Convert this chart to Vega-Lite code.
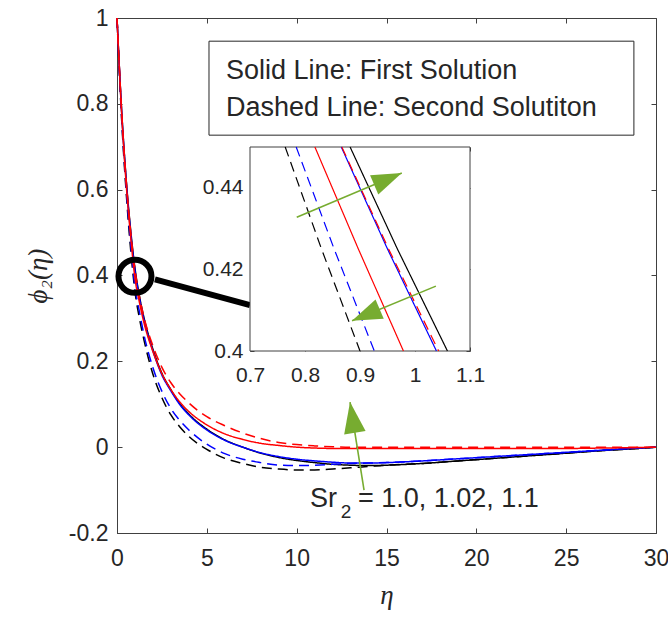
{
  "$schema": "https://vega.github.io/schema/vega-lite/v6.json",
  "width": 539,
  "height": 515,
  "autosize": "none",
  "padding": {"left": 117, "top": 18, "right": 12, "bottom": 86},
  "background": "white",
  "config": {
    "view": {"stroke": "#404040", "strokeWidth": 1},
    "axis": {
      "labelFont": "Liberation Sans",
      "labelFontSize": 23,
      "labelColor": "#262626",
      "domainColor": "#404040",
      "tickColor": "#404040",
      "tickSize": -5,
      "grid": false,
      "labelFlush": false,
      "labelOverlap": false,
      "titleFont": "Liberation Serif, DejaVu Serif",
      "titleFontStyle": "italic",
      "titleFontWeight": "normal",
      "titleFontSize": 27,
      "titleColor": "#262626",
      "zindex": 1
    }
  },
  "datasets": {
    "main": [
      {"eta":0,"phi":1,"Sr2":"1.0","sol":"First"},{"eta":0.25,"phi":0.79,"Sr2":"1.0","sol":"First"},{"eta":0.5,"phi":0.63,"Sr2":"1.0","sol":"First"},{"eta":0.75,"phi":0.51,"Sr2":"1.0","sol":"First"},{"eta":1,"phi":0.417,"Sr2":"1.0","sol":"First"},{"eta":1.25,"phi":0.352,"Sr2":"1.0","sol":"First"},{"eta":1.5,"phi":0.302,"Sr2":"1.0","sol":"First"},{"eta":2,"phi":0.228,"Sr2":"1.0","sol":"First"},{"eta":2.5,"phi":0.172,"Sr2":"1.0","sol":"First"},{"eta":3,"phi":0.134,"Sr2":"1.0","sol":"First"},{"eta":3.5,"phi":0.101,"Sr2":"1.0","sol":"First"},{"eta":4,"phi":0.077,"Sr2":"1.0","sol":"First"},{"eta":5,"phi":0.042,"Sr2":"1.0","sol":"First"},{"eta":6,"phi":0.017,"Sr2":"1.0","sol":"First"},{"eta":7,"phi":0,"Sr2":"1.0","sol":"First"},{"eta":8,"phi":-0.014,"Sr2":"1.0","sol":"First"},{"eta":9,"phi":-0.024,"Sr2":"1.0","sol":"First"},{"eta":10,"phi":-0.031,"Sr2":"1.0","sol":"First"},{"eta":11,"phi":-0.036,"Sr2":"1.0","sol":"First"},{"eta":12,"phi":-0.04,"Sr2":"1.0","sol":"First"},{"eta":13,"phi":-0.042,"Sr2":"1.0","sol":"First"},{"eta":14,"phi":-0.043,"Sr2":"1.0","sol":"First"},{"eta":15,"phi":-0.042,"Sr2":"1.0","sol":"First"},{"eta":17,"phi":-0.038,"Sr2":"1.0","sol":"First"},{"eta":19,"phi":-0.032,"Sr2":"1.0","sol":"First"},{"eta":21,"phi":-0.026,"Sr2":"1.0","sol":"First"},{"eta":23,"phi":-0.02,"Sr2":"1.0","sol":"First"},{"eta":25,"phi":-0.014,"Sr2":"1.0","sol":"First"},{"eta":27,"phi":-0.008,"Sr2":"1.0","sol":"First"},{"eta":29,"phi":-0.003,"Sr2":"1.0","sol":"First"},{"eta":30,"phi":0,"Sr2":"1.0","sol":"First"},
      {"eta":0,"phi":1,"Sr2":"1.0","sol":"Second"},{"eta":0.25,"phi":0.77,"Sr2":"1.0","sol":"Second"},{"eta":0.5,"phi":0.6,"Sr2":"1.0","sol":"Second"},{"eta":0.75,"phi":0.465,"Sr2":"1.0","sol":"Second"},{"eta":1,"phi":0.363,"Sr2":"1.0","sol":"Second"},{"eta":1.25,"phi":0.3,"Sr2":"1.0","sol":"Second"},{"eta":1.5,"phi":0.25,"Sr2":"1.0","sol":"Second"},{"eta":2,"phi":0.17,"Sr2":"1.0","sol":"Second"},{"eta":2.5,"phi":0.115,"Sr2":"1.0","sol":"Second"},{"eta":3,"phi":0.075,"Sr2":"1.0","sol":"Second"},{"eta":3.5,"phi":0.047,"Sr2":"1.0","sol":"Second"},{"eta":4,"phi":0.025,"Sr2":"1.0","sol":"Second"},{"eta":5,"phi":-0.005,"Sr2":"1.0","sol":"Second"},{"eta":6,"phi":-0.026,"Sr2":"1.0","sol":"Second"},{"eta":7,"phi":-0.038,"Sr2":"1.0","sol":"Second"},{"eta":8,"phi":-0.047,"Sr2":"1.0","sol":"Second"},{"eta":9,"phi":-0.051,"Sr2":"1.0","sol":"Second"},{"eta":10,"phi":-0.053,"Sr2":"1.0","sol":"Second"},{"eta":11,"phi":-0.053,"Sr2":"1.0","sol":"Second"},{"eta":12,"phi":-0.051,"Sr2":"1.0","sol":"Second"},{"eta":13,"phi":-0.048,"Sr2":"1.0","sol":"Second"},{"eta":14,"phi":-0.045,"Sr2":"1.0","sol":"Second"},{"eta":15,"phi":-0.042,"Sr2":"1.0","sol":"Second"},{"eta":17,"phi":-0.038,"Sr2":"1.0","sol":"Second"},{"eta":19,"phi":-0.032,"Sr2":"1.0","sol":"Second"},{"eta":21,"phi":-0.026,"Sr2":"1.0","sol":"Second"},{"eta":23,"phi":-0.02,"Sr2":"1.0","sol":"Second"},{"eta":25,"phi":-0.014,"Sr2":"1.0","sol":"Second"},{"eta":27,"phi":-0.008,"Sr2":"1.0","sol":"Second"},{"eta":29,"phi":-0.003,"Sr2":"1.0","sol":"Second"},{"eta":30,"phi":0,"Sr2":"1.0","sol":"Second"},
      {"eta":0,"phi":1,"Sr2":"1.02","sol":"First"},{"eta":0.25,"phi":0.788,"Sr2":"1.02","sol":"First"},{"eta":0.5,"phi":0.627,"Sr2":"1.02","sol":"First"},{"eta":0.75,"phi":0.505,"Sr2":"1.02","sol":"First"},{"eta":1,"phi":0.411,"Sr2":"1.02","sol":"First"},{"eta":1.25,"phi":0.347,"Sr2":"1.02","sol":"First"},{"eta":1.5,"phi":0.297,"Sr2":"1.02","sol":"First"},{"eta":2,"phi":0.224,"Sr2":"1.02","sol":"First"},{"eta":2.5,"phi":0.168,"Sr2":"1.02","sol":"First"},{"eta":3,"phi":0.131,"Sr2":"1.02","sol":"First"},{"eta":3.5,"phi":0.099,"Sr2":"1.02","sol":"First"},{"eta":4,"phi":0.075,"Sr2":"1.02","sol":"First"},{"eta":5,"phi":0.04,"Sr2":"1.02","sol":"First"},{"eta":6,"phi":0.016,"Sr2":"1.02","sol":"First"},{"eta":7,"phi":0,"Sr2":"1.02","sol":"First"},{"eta":8,"phi":-0.013,"Sr2":"1.02","sol":"First"},{"eta":9,"phi":-0.022,"Sr2":"1.02","sol":"First"},{"eta":10,"phi":-0.028,"Sr2":"1.02","sol":"First"},{"eta":11,"phi":-0.032,"Sr2":"1.02","sol":"First"},{"eta":12,"phi":-0.035,"Sr2":"1.02","sol":"First"},{"eta":13,"phi":-0.037,"Sr2":"1.02","sol":"First"},{"eta":14,"phi":-0.037,"Sr2":"1.02","sol":"First"},{"eta":15,"phi":-0.036,"Sr2":"1.02","sol":"First"},{"eta":17,"phi":-0.032,"Sr2":"1.02","sol":"First"},{"eta":19,"phi":-0.027,"Sr2":"1.02","sol":"First"},{"eta":21,"phi":-0.022,"Sr2":"1.02","sol":"First"},{"eta":23,"phi":-0.017,"Sr2":"1.02","sol":"First"},{"eta":25,"phi":-0.012,"Sr2":"1.02","sol":"First"},{"eta":27,"phi":-0.007,"Sr2":"1.02","sol":"First"},{"eta":29,"phi":-0.002,"Sr2":"1.02","sol":"First"},{"eta":30,"phi":0,"Sr2":"1.02","sol":"First"},
      {"eta":0,"phi":1,"Sr2":"1.02","sol":"Second"},{"eta":0.25,"phi":0.775,"Sr2":"1.02","sol":"Second"},{"eta":0.5,"phi":0.61,"Sr2":"1.02","sol":"Second"},{"eta":0.75,"phi":0.478,"Sr2":"1.02","sol":"Second"},{"eta":1,"phi":0.374,"Sr2":"1.02","sol":"Second"},{"eta":1.25,"phi":0.315,"Sr2":"1.02","sol":"Second"},{"eta":1.5,"phi":0.262,"Sr2":"1.02","sol":"Second"},{"eta":2,"phi":0.185,"Sr2":"1.02","sol":"Second"},{"eta":2.5,"phi":0.13,"Sr2":"1.02","sol":"Second"},{"eta":3,"phi":0.09,"Sr2":"1.02","sol":"Second"},{"eta":3.5,"phi":0.062,"Sr2":"1.02","sol":"Second"},{"eta":4,"phi":0.04,"Sr2":"1.02","sol":"Second"},{"eta":5,"phi":0.007,"Sr2":"1.02","sol":"Second"},{"eta":6,"phi":-0.015,"Sr2":"1.02","sol":"Second"},{"eta":7,"phi":-0.028,"Sr2":"1.02","sol":"Second"},{"eta":8,"phi":-0.036,"Sr2":"1.02","sol":"Second"},{"eta":9,"phi":-0.042,"Sr2":"1.02","sol":"Second"},{"eta":10,"phi":-0.043,"Sr2":"1.02","sol":"Second"},{"eta":11,"phi":-0.042,"Sr2":"1.02","sol":"Second"},{"eta":12,"phi":-0.04,"Sr2":"1.02","sol":"Second"},{"eta":13,"phi":-0.038,"Sr2":"1.02","sol":"Second"},{"eta":14,"phi":-0.037,"Sr2":"1.02","sol":"Second"},{"eta":15,"phi":-0.036,"Sr2":"1.02","sol":"Second"},{"eta":17,"phi":-0.032,"Sr2":"1.02","sol":"Second"},{"eta":19,"phi":-0.027,"Sr2":"1.02","sol":"Second"},{"eta":21,"phi":-0.022,"Sr2":"1.02","sol":"Second"},{"eta":23,"phi":-0.017,"Sr2":"1.02","sol":"Second"},{"eta":25,"phi":-0.012,"Sr2":"1.02","sol":"Second"},{"eta":27,"phi":-0.007,"Sr2":"1.02","sol":"Second"},{"eta":29,"phi":-0.002,"Sr2":"1.02","sol":"Second"},{"eta":30,"phi":0,"Sr2":"1.02","sol":"Second"},
      {"eta":0,"phi":1,"Sr2":"1.1","sol":"First"},{"eta":0.25,"phi":0.785,"Sr2":"1.1","sol":"First"},{"eta":0.5,"phi":0.62,"Sr2":"1.1","sol":"First"},{"eta":0.75,"phi":0.495,"Sr2":"1.1","sol":"First"},{"eta":1,"phi":0.394,"Sr2":"1.1","sol":"First"},{"eta":1.25,"phi":0.337,"Sr2":"1.1","sol":"First"},{"eta":1.5,"phi":0.29,"Sr2":"1.1","sol":"First"},{"eta":2,"phi":0.223,"Sr2":"1.1","sol":"First"},{"eta":2.5,"phi":0.171,"Sr2":"1.1","sol":"First"},{"eta":3,"phi":0.134,"Sr2":"1.1","sol":"First"},{"eta":3.5,"phi":0.105,"Sr2":"1.1","sol":"First"},{"eta":4,"phi":0.083,"Sr2":"1.1","sol":"First"},{"eta":5,"phi":0.052,"Sr2":"1.1","sol":"First"},{"eta":6,"phi":0.031,"Sr2":"1.1","sol":"First"},{"eta":7,"phi":0.018,"Sr2":"1.1","sol":"First"},{"eta":8,"phi":0.009,"Sr2":"1.1","sol":"First"},{"eta":9,"phi":0.004,"Sr2":"1.1","sol":"First"},{"eta":10,"phi":0,"Sr2":"1.1","sol":"First"},{"eta":11,"phi":-0.002,"Sr2":"1.1","sol":"First"},{"eta":12,"phi":-0.003,"Sr2":"1.1","sol":"First"},{"eta":13,"phi":-0.003,"Sr2":"1.1","sol":"First"},{"eta":14,"phi":-0.003,"Sr2":"1.1","sol":"First"},{"eta":15,"phi":-0.003,"Sr2":"1.1","sol":"First"},{"eta":17,"phi":-0.003,"Sr2":"1.1","sol":"First"},{"eta":19,"phi":-0.003,"Sr2":"1.1","sol":"First"},{"eta":21,"phi":-0.003,"Sr2":"1.1","sol":"First"},{"eta":23,"phi":-0.003,"Sr2":"1.1","sol":"First"},{"eta":25,"phi":-0.003,"Sr2":"1.1","sol":"First"},{"eta":27,"phi":-0.002,"Sr2":"1.1","sol":"First"},{"eta":29,"phi":-0.001,"Sr2":"1.1","sol":"First"},{"eta":30,"phi":0,"Sr2":"1.1","sol":"First"},
      {"eta":0,"phi":1,"Sr2":"1.1","sol":"Second"},{"eta":0.25,"phi":0.79,"Sr2":"1.1","sol":"Second"},{"eta":0.5,"phi":0.628,"Sr2":"1.1","sol":"Second"},{"eta":0.75,"phi":0.507,"Sr2":"1.1","sol":"Second"},{"eta":1,"phi":0.413,"Sr2":"1.1","sol":"Second"},{"eta":1.25,"phi":0.351,"Sr2":"1.1","sol":"Second"},{"eta":1.5,"phi":0.303,"Sr2":"1.1","sol":"Second"},{"eta":2,"phi":0.236,"Sr2":"1.1","sol":"Second"},{"eta":2.5,"phi":0.186,"Sr2":"1.1","sol":"Second"},{"eta":3,"phi":0.15,"Sr2":"1.1","sol":"Second"},{"eta":3.5,"phi":0.124,"Sr2":"1.1","sol":"Second"},{"eta":4,"phi":0.103,"Sr2":"1.1","sol":"Second"},{"eta":5,"phi":0.071,"Sr2":"1.1","sol":"Second"},{"eta":6,"phi":0.05,"Sr2":"1.1","sol":"Second"},{"eta":7,"phi":0.033,"Sr2":"1.1","sol":"Second"},{"eta":8,"phi":0.02,"Sr2":"1.1","sol":"Second"},{"eta":9,"phi":0.011,"Sr2":"1.1","sol":"Second"},{"eta":10,"phi":0.006,"Sr2":"1.1","sol":"Second"},{"eta":11,"phi":0.003,"Sr2":"1.1","sol":"Second"},{"eta":12,"phi":0.001,"Sr2":"1.1","sol":"Second"},{"eta":13,"phi":0,"Sr2":"1.1","sol":"Second"},{"eta":14,"phi":0,"Sr2":"1.1","sol":"Second"},{"eta":15,"phi":0,"Sr2":"1.1","sol":"Second"},{"eta":17,"phi":0,"Sr2":"1.1","sol":"Second"},{"eta":19,"phi":0,"Sr2":"1.1","sol":"Second"},{"eta":21,"phi":0,"Sr2":"1.1","sol":"Second"},{"eta":23,"phi":0,"Sr2":"1.1","sol":"Second"},{"eta":25,"phi":0,"Sr2":"1.1","sol":"Second"},{"eta":27,"phi":0,"Sr2":"1.1","sol":"Second"},{"eta":29,"phi":0,"Sr2":"1.1","sol":"Second"},{"eta":30,"phi":0,"Sr2":"1.1","sol":"Second"}
    ],
    "inset": [
      {"eta":0.764,"phi":0.45,"Sr2":"1.0","sol":"Second"},{"eta":0.83,"phi":0.425,"Sr2":"1.0","sol":"Second"},{"eta":0.9,"phi":0.4,"Sr2":"1.0","sol":"Second"},
      {"eta":0.882,"phi":0.45,"Sr2":"1.0","sol":"First"},{"eta":0.968,"phi":0.425,"Sr2":"1.0","sol":"First"},{"eta":1.059,"phi":0.4,"Sr2":"1.0","sol":"First"},
      {"eta":0.784,"phi":0.45,"Sr2":"1.02","sol":"Second"},{"eta":0.853,"phi":0.425,"Sr2":"1.02","sol":"Second"},{"eta":0.926,"phi":0.4,"Sr2":"1.02","sol":"Second"},
      {"eta":0.866,"phi":0.45,"Sr2":"1.02","sol":"First"},{"eta":0.95,"phi":0.425,"Sr2":"1.02","sol":"First"},{"eta":1.039,"phi":0.4,"Sr2":"1.02","sol":"First"},
      {"eta":0.818,"phi":0.45,"Sr2":"1.1","sol":"First"},{"eta":0.897,"phi":0.425,"Sr2":"1.1","sol":"First"},{"eta":0.979,"phi":0.4,"Sr2":"1.1","sol":"First"},
      {"eta":0.867,"phi":0.45,"Sr2":"1.1","sol":"Second"},{"eta":0.952,"phi":0.425,"Sr2":"1.1","sol":"Second"},{"eta":1.043,"phi":0.4,"Sr2":"1.1","sol":"Second"}
    ]
  },
  "layer": [
    {
      "layer": [
        {
          "data": {"name": "main"},
          "mark": {"type": "line", "strokeWidth": 1.5, "interpolate": "monotone"},
          "encoding": {
            "x": {"field": "eta", "type": "quantitative",
                  "scale": {"domain": [0, 30], "nice": false, "zero": false},
                  "axis": {"orient": "bottom", "values": [0,5,10,15,20,25,30], "format": "~g", "labelPadding": 19, "title": "η", "titlePadding": 12}},
            "y": {"field": "phi", "type": "quantitative",
                  "scale": {"domain": [-0.2, 1], "nice": false, "zero": false},
                  "axis": {"orient": "left", "values": [-0.2,0,0.2,0.4,0.6,0.8,1], "format": "~g", "labelExpr": "replace(datum.label, '\u2212', '-')", "labelPadding": 14, "title": "ϕ₂(η)", "titlePadding": 16}},
            "color": {"field": "Sr2", "type": "nominal",
                      "scale": {"domain": ["1.0","1.02","1.1"], "range": ["#000000","#0000ff","#ff0000"]}, "legend": null},
            "strokeDash": {"field": "sol", "type": "nominal",
                           "scale": {"domain": ["First","Second"], "range": [[1,0],[10,6]]}, "legend": null}
          }
        },
        {
          "data": {"values": [{"eta": 0, "phi": 0}]},
          "mark": {"type": "point", "opacity": 0},
          "encoding": {
            "x": {"field": "eta", "type": "quantitative",
                  "axis": {"orient": "top", "values": [0,5,10,15,20,25,30], "labels": false, "domain": false, "title": null}},
            "y": {"field": "phi", "type": "quantitative",
                  "axis": {"orient": "right", "values": [-0.2,0,0.2,0.4,0.6,0.8,1], "labels": false, "domain": false, "title": null}}
          }
        },
        {
          "data": {"values": [{"eta": 5.12, "eta2": 28.77, "phi": 0.946, "phi2": 0.727}]},
          "mark": {"type": "rect", "fill": "white", "stroke": "#262626", "strokeWidth": 1},
          "encoding": {
            "x": {"field": "eta", "type": "quantitative", "axis": null},
            "x2": {"field": "eta2"},
            "y": {"field": "phi", "type": "quantitative", "axis": null},
            "y2": {"field": "phi2"}
          }
        },
        {
          "data": {"values": [
            {"eta": 6.07, "phi": 0.857, "label": "Solid Line: First Solution"},
            {"eta": 6.07, "phi": 0.771, "label": "Dashed Line: Second Solutiton"}
          ]},
          "mark": {"type": "text", "align": "left", "baseline": "alphabetic", "font": "Liberation Sans", "fontSize": 27, "color": "#262626"},
          "encoding": {
            "x": {"field": "eta", "type": "quantitative", "axis": null},
            "y": {"field": "phi", "type": "quantitative", "axis": null},
            "text": {"field": "label"}
          }
        },
        {
          "data": {"values": [{"eta": 2.11, "phi": 0.391, "eta2": 7.4, "phi2": 0.331}]},
          "mark": {"type": "rule", "color": "black", "strokeWidth": 6},
          "encoding": {
            "x": {"field": "eta", "type": "quantitative", "axis": null},
            "y": {"field": "phi", "type": "quantitative", "axis": null},
            "x2": {"field": "eta2"},
            "y2": {"field": "phi2"}
          }
        },
        {
          "data": {"values": [{"eta": 1.0, "phi": 0.398}]},
          "mark": {"type": "point", "shape": "circle", "size": 1089, "filled": false, "stroke": "black", "strokeWidth": 6, "opacity": 1},
          "encoding": {
            "x": {"field": "eta", "type": "quantitative", "axis": null},
            "y": {"field": "phi", "type": "quantitative", "axis": null}
          }
        },
        {
          "data": {"values": [{"eta": 13.75, "phi": -0.1, "eta2": 12.97, "phi2": 0.105}]},
          "mark": {"type": "rule", "color": "#77ac30", "strokeWidth": 1.6},
          "encoding": {
            "x": {"field": "eta", "type": "quantitative", "axis": null},
            "y": {"field": "phi", "type": "quantitative", "axis": null},
            "x2": {"field": "eta2"},
            "y2": {"field": "phi2"}
          }
        },
        {
          "data": {"values": [{"eta": 12.97, "phi": 0.105}]},
          "mark": {"type": "point", "shape": "M0,0L-2,-0.7L-2,0.7Z", "size": 961, "angle": 261, "filled": true, "color": "#77ac30", "opacity": 1},
          "encoding": {
            "x": {"field": "eta", "type": "quantitative", "axis": null},
            "y": {"field": "phi", "type": "quantitative", "axis": null}
          }
        },
        {
          "data": {"values": [
            {"eta": 10.74, "phi": -0.14, "label": "Sr"},
            {"eta": 13.41, "phi": -0.14, "label": "= 1.0, 1.02, 1.1"}
          ]},
          "mark": {"type": "text", "align": "left", "baseline": "alphabetic", "font": "Liberation Sans", "fontSize": 27, "color": "#262626"},
          "encoding": {
            "x": {"field": "eta", "type": "quantitative", "axis": null},
            "y": {"field": "phi", "type": "quantitative", "axis": null},
            "text": {"field": "label"}
          }
        },
        {
          "data": {"values": [{"eta": 12.46, "phi": -0.1654, "label": "2"}]},
          "mark": {"type": "text", "align": "left", "baseline": "alphabetic", "font": "Liberation Sans", "fontSize": 19, "color": "#262626"},
          "encoding": {
            "x": {"field": "eta", "type": "quantitative", "axis": null},
            "y": {"field": "phi", "type": "quantitative", "axis": null},
            "text": {"field": "label"}
          }
        }
      ],
      "resolve": {"axis": {"x": "independent", "y": "independent"}}
    },
    {
      "layer": [
        {
          "data": {"values": [{"eta": 0.7, "eta2": 1.1, "phi": 0.4, "phi2": 0.45}]},
          "mark": {"type": "rect", "fill": "white", "stroke": "#404040", "strokeWidth": 1},
          "encoding": {
            "x": {"field": "eta", "type": "quantitative", "scale": {"domain": [0.7, 1.1], "range": [133, 353], "nice": false, "zero": false}, "axis": null},
            "x2": {"field": "eta2"},
            "y": {"field": "phi", "type": "quantitative", "scale": {"domain": [0.4, 0.45], "range": [333, 129], "nice": false, "zero": false}, "axis": null},
            "y2": {"field": "phi2"}
          }
        },
        {
          "data": {"name": "inset"},
          "mark": {"type": "line", "strokeWidth": 1.2},
          "encoding": {
            "x": {"field": "eta", "type": "quantitative",
                  "scale": {"domain": [0.7, 1.1], "range": [133, 353], "nice": false, "zero": false},
                  "axis": {"orient": "bottom", "offset": -182, "values": [0.7,0.8,0.9,1,1.1], "format": "~g", "labelFontSize": 21, "labelPadding": 17, "tickSize": -4, "domain": false, "title": null}},
            "y": {"field": "phi", "type": "quantitative",
                  "scale": {"domain": [0.4, 0.45], "range": [333, 129], "nice": false, "zero": false},
                  "axis": {"orient": "left", "offset": -133, "values": [0.4,0.42,0.44], "format": "~g", "labelFontSize": 21, "labelPadding": 11, "tickSize": -4, "domain": false, "title": null}},
            "color": {"field": "Sr2", "type": "nominal", "legend": null},
            "strokeDash": {"field": "sol", "type": "nominal", "legend": null}
          }
        },
        {
          "data": {"values": [{"eta": 0.7, "phi": 0.4}]},
          "mark": {"type": "point", "opacity": 0},
          "encoding": {
            "x": {"field": "eta", "type": "quantitative",
                  "axis": {"orient": "top", "offset": -129, "values": [0.7,0.8,0.9,1,1.1], "labels": false, "domain": false, "tickSize": -4, "title": null}},
            "y": {"field": "phi", "type": "quantitative",
                  "axis": {"orient": "right", "offset": -186, "values": [0.4,0.42,0.44], "labels": false, "domain": false, "tickSize": -4, "title": null}}
          }
        },
        {
          "data": {"values": [
            {"eta": 0.785, "phi": 0.4328, "eta2": 0.976, "phi2": 0.4436},
            {"eta": 1.038, "phi": 0.4159, "eta2": 0.8855, "phi2": 0.4074}
          ]},
          "mark": {"type": "rule", "color": "#77ac30", "strokeWidth": 1.6},
          "encoding": {
            "x": {"field": "eta", "type": "quantitative", "axis": null},
            "y": {"field": "phi", "type": "quantitative", "axis": null},
            "x2": {"field": "eta2"},
            "y2": {"field": "phi2"}
          }
        },
        {
          "data": {"values": [{"eta": 0.976, "phi": 0.4436}]},
          "mark": {"type": "point", "shape": "M0,0L-2,-0.7L-2,0.7Z", "size": 900, "angle": 337, "filled": true, "color": "#77ac30", "opacity": 1},
          "encoding": {
            "x": {"field": "eta", "type": "quantitative", "axis": null},
            "y": {"field": "phi", "type": "quantitative", "axis": null}
          }
        },
        {
          "data": {"values": [{"eta": 0.8855, "phi": 0.4074}]},
          "mark": {"type": "point", "shape": "M0,0L-2,-0.7L-2,0.7Z", "size": 900, "angle": 157, "filled": true, "color": "#77ac30", "opacity": 1},
          "encoding": {
            "x": {"field": "eta", "type": "quantitative", "axis": null},
            "y": {"field": "phi", "type": "quantitative", "axis": null}
          }
        }
      ],
      "resolve": {"axis": {"x": "independent", "y": "independent"}}
    }
  ],
  "resolve": {"scale": {"x": "independent", "y": "independent"}, "axis": {"x": "independent", "y": "independent"}}
}
